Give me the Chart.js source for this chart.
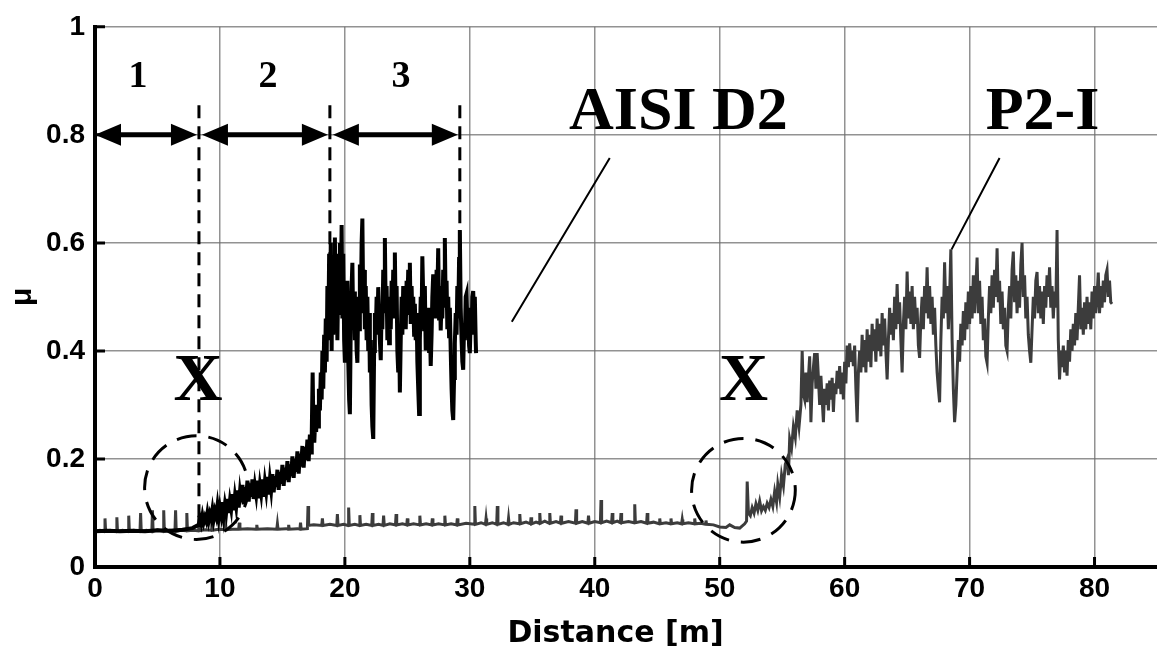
<!DOCTYPE html>
<html>
<head>
<meta charset="utf-8">
<title>Friction coefficient vs sliding distance</title>
<script src="https://cdn.jsdelivr.net/npm/chart.js@4.4.1/dist/chart.umd.min.js"></script>
<style>
  html, body { margin: 0; padding: 0; background: #fff; }
  #wrap { width: 1157px; height: 656px; }
</style>
</head>
<body>
<div id="wrap"><canvas id="muChart" width="1157" height="656"></canvas></div>
<script>
"use strict";

// --- data: [distance m, μ] ---
const xTickValues = [0, 10, 20, 30, 40, 50, 60, 70, 80];
const yTickValues = [0, 0.2, 0.4, 0.6, 0.8, 1];

const d2Points = [
  [0, 0.066], [1, 0.067], [2, 0.066], [3, 0.067], [4, 0.066], [5, 0.068], [6, 0.067], [7, 0.069], [7.8, 0.072],
  [8.3, 0.078], [8.4, 0.09], [8.5, 0.081], [8.6, 0.095], [8.7, 0.083], [8.8, 0.092], [8.9, 0.085], [9.0, 0.1],
  [9.1, 0.086], [9.2, 0.098], [9.3, 0.09], [9.4, 0.106], [9.5, 0.089], [9.6, 0.103], [9.7, 0.094], [9.8, 0.113],
  [9.9, 0.092], [10.0, 0.11], [10.1, 0.097], [10.2, 0.12], [10.3, 0.096], [10.4, 0.116], [10.5, 0.102],
  [10.6, 0.126], [10.7, 0.1], [10.8, 0.122], [10.9, 0.108], [11.0, 0.135], [11.1, 0.105], [11.2, 0.13],
  [11.3, 0.113], [11.4, 0.142], [11.5, 0.11], [11.6, 0.138], [11.7, 0.12], [11.8, 0.152], [11.9, 0.116],
  [12.0, 0.148], [12.1, 0.126], [12.2, 0.16], [12.3, 0.121], [12.4, 0.155], [12.5, 0.13], [12.6, 0.162],
  [12.7, 0.126], [12.8, 0.15], [12.9, 0.134], [13.0, 0.16], [13.1, 0.127], [13.2, 0.152], [13.3, 0.136],
  [13.4, 0.162], [13.5, 0.13], [13.6, 0.157], [13.7, 0.14], [13.8, 0.167], [13.9, 0.134], [14.0, 0.162],
  [14.1, 0.143], [14.2, 0.172], [14.3, 0.138], [14.4, 0.168], [14.5, 0.148], [14.6, 0.18], [14.7, 0.143],
  [14.8, 0.176], [14.9, 0.154], [15.0, 0.189], [15.1, 0.15], [15.2, 0.184], [15.3, 0.161], [15.4, 0.196],
  [15.5, 0.157], [15.6, 0.19], [15.7, 0.168], [15.8, 0.205], [15.9, 0.165], [16.0, 0.2], [16.1, 0.176],
  [16.2, 0.214], [16.3, 0.173], [16.4, 0.21], [16.5, 0.186], [16.6, 0.224], [16.7, 0.184], [16.8, 0.222],
  [16.9, 0.198], [17.0, 0.236], [17.1, 0.196], [17.2, 0.245], [17.3, 0.212],
  [17.35, 0.25], [17.42, 0.36], [17.48, 0.26], [17.55, 0.23], [17.62, 0.27], [17.7, 0.25], [17.78, 0.3],
  [17.85, 0.26], [17.92, 0.33], [18.0, 0.29], [18.07, 0.36], [18.14, 0.31], [18.2, 0.4], [18.27, 0.33],
  [18.34, 0.43], [18.4, 0.36], [18.47, 0.46], [18.54, 0.38], [18.6, 0.52], [18.67, 0.42], [18.74, 0.58],
  [18.8, 0.44], [18.87, 0.6], [18.94, 0.4],
  [19.0, 0.56], [19.07, 0.43], [19.14, 0.55], [19.2, 0.61], [19.27, 0.45], [19.34, 0.58], [19.4, 0.42],
  [19.47, 0.54], [19.54, 0.47], [19.6, 0.6], [19.67, 0.5], [19.74, 0.633], [19.8, 0.46], [19.87, 0.58],
  [19.94, 0.42], [20.0, 0.378], [20.07, 0.5], [20.14, 0.45], [20.2, 0.53], [20.27, 0.38], [20.34, 0.31],
  [20.4, 0.283], [20.47, 0.45], [20.54, 0.52], [20.6, 0.563], [20.67, 0.44], [20.74, 0.51], [20.8, 0.42],
  [20.87, 0.48], [20.94, 0.4], [21.0, 0.378], [21.07, 0.5], [21.14, 0.44], [21.2, 0.56], [21.27, 0.47],
  [21.34, 0.6], [21.4, 0.645], [21.47, 0.48], [21.54, 0.55], [21.6, 0.44], [21.67, 0.52], [21.74, 0.42],
  [21.8, 0.5], [21.87, 0.4], [21.94, 0.47], [22.0, 0.36], [22.07, 0.42], [22.14, 0.3], [22.2, 0.26],
  [22.27, 0.237], [22.34, 0.4], [22.4, 0.47], [22.47, 0.43], [22.54, 0.5], [22.6, 0.44], [22.67, 0.518],
  [22.74, 0.46], [22.8, 0.42], [22.87, 0.383], [22.94, 0.48], [23.0, 0.44], [23.07, 0.55], [23.14, 0.5],
  [23.2, 0.609], [23.27, 0.47], [23.34, 0.52], [23.4, 0.42], [23.47, 0.5], [23.54, 0.414], [23.6, 0.49],
  [23.67, 0.44], [23.74, 0.53], [23.8, 0.46], [23.87, 0.55], [23.94, 0.5], [24.0, 0.582], [24.07, 0.46],
  [24.14, 0.52], [24.2, 0.4], [24.27, 0.36], [24.34, 0.44], [24.4, 0.323], [24.47, 0.42], [24.54, 0.5],
  [24.6, 0.43], [24.67, 0.52], [24.74, 0.46], [24.8, 0.5], [24.87, 0.44], [24.94, 0.53], [25.0, 0.48],
  [25.07, 0.55], [25.14, 0.47], [25.2, 0.563], [25.27, 0.45], [25.34, 0.52], [25.4, 0.46], [25.47, 0.5],
  [25.54, 0.43], [25.6, 0.487], [25.67, 0.42], [25.74, 0.47], [25.8, 0.38], [25.87, 0.33], [25.94, 0.283],
  [26.0, 0.42], [26.07, 0.5], [26.14, 0.46], [26.2, 0.575], [26.27, 0.5], [26.34, 0.44], [26.4, 0.52],
  [26.47, 0.401], [26.54, 0.47], [26.6, 0.42], [26.67, 0.48], [26.74, 0.4], [26.8, 0.45], [26.87, 0.372],
  [26.94, 0.43], [27.0, 0.5], [27.07, 0.542], [27.14, 0.47], [27.2, 0.53], [27.27, 0.46], [27.34, 0.55],
  [27.4, 0.5], [27.47, 0.59], [27.54, 0.46], [27.6, 0.52], [27.67, 0.438], [27.74, 0.5], [27.8, 0.46],
  [27.87, 0.55], [27.94, 0.5], [28.0, 0.609], [28.07, 0.48], [28.14, 0.53], [28.2, 0.44], [28.27, 0.5],
  [28.34, 0.427], [28.4, 0.48], [28.47, 0.4], [28.54, 0.33], [28.6, 0.29], [28.67, 0.272], [28.74, 0.35],
  [28.8, 0.414], [28.87, 0.47], [28.94, 0.43], [29.0, 0.52], [29.07, 0.46], [29.14, 0.57], [29.2, 0.624],
  [29.27, 0.48], [29.34, 0.42], [29.4, 0.38], [29.47, 0.365], [29.54, 0.45], [29.6, 0.42], [29.67, 0.5],
  [29.74, 0.506], [29.8, 0.45], [29.87, 0.48], [29.94, 0.41], [30.0, 0.396], [30.07, 0.46], [30.14, 0.43],
  [30.2, 0.5], [30.27, 0.511], [30.34, 0.46], [30.4, 0.5], [30.47, 0.42], [30.5, 0.396]
];

const p2Points = [
  [0, 0.066], [0.4, 0.068], [0.75, 0.066], [0.8, 0.09], [0.85, 0.066], [1.2, 0.068], [1.7, 0.066], [1.75, 0.092],
  [1.8, 0.066], [2.2, 0.068], [2.65, 0.066], [2.7, 0.095], [2.75, 0.066], [3.1, 0.068], [3.6, 0.066], [3.65, 0.1],
  [3.7, 0.066], [4.1, 0.068], [4.55, 0.066], [4.6, 0.105], [4.65, 0.066], [5.0, 0.069], [5.45, 0.066], [5.5, 0.105],
  [5.55, 0.066], [6.0, 0.068], [6.4, 0.066], [6.45, 0.105], [6.5, 0.066], [6.9, 0.068], [7.3, 0.067], [7.35, 0.1],
  [7.4, 0.067], [7.8, 0.068], [8.25, 0.067], [8.3, 0.095], [8.35, 0.067], [8.8, 0.069], [9.3, 0.068], [9.35, 0.085],
  [9.4, 0.068], [9.9, 0.07], [10.4, 0.069], [10.45, 0.08], [10.5, 0.069], [11.0, 0.07], [11.5, 0.07], [11.55, 0.082],
  [11.6, 0.07], [12.2, 0.071], [12.9, 0.07], [12.95, 0.078], [13.0, 0.07], [13.8, 0.071], [14.55, 0.07], [14.6, 0.08],
  [14.65, 0.07], [15.3, 0.071], [15.45, 0.07], [15.5, 0.078], [15.55, 0.07], [16.2, 0.071], [16.4, 0.07],
  [16.45, 0.082], [16.5, 0.07], [17.0, 0.071], [17.05, 0.113], [17.1, 0.077],
  [17.5, 0.078], [18.15, 0.077], [18.2, 0.09], [18.25, 0.077], [18.8, 0.079], [19.35, 0.077], [19.4, 0.098],
  [19.45, 0.077], [19.9, 0.079], [20.25, 0.077], [20.3, 0.11], [20.35, 0.077], [20.8, 0.079], [21.15, 0.077],
  [21.2, 0.096], [21.25, 0.077], [21.7, 0.079], [22.15, 0.077], [22.2, 0.1], [22.25, 0.077], [22.7, 0.079],
  [23.05, 0.077], [23.1, 0.095], [23.15, 0.077], [23.6, 0.08], [24.05, 0.078], [24.1, 0.098], [24.15, 0.078],
  [24.6, 0.08], [24.95, 0.078], [25, 0.09], [25.05, 0.078], [25.5, 0.08], [25.95, 0.078], [26, 0.095], [26.05, 0.078],
  [26.5, 0.08], [26.95, 0.078], [27, 0.09], [27.05, 0.078], [27.5, 0.08], [27.95, 0.078], [28, 0.095], [28.05, 0.078],
  [28.5, 0.08], [28.95, 0.078], [29, 0.09], [29.05, 0.078], [29.7, 0.081], [30.35, 0.079], [30.4, 0.113],
  [30.45, 0.079], [30.9, 0.082], [31.25, 0.079], [31.3, 0.09], [31.35, 0.079], [31.8, 0.082], [32.15, 0.079],
  [32.2, 0.113], [32.25, 0.079], [32.7, 0.082], [33.05, 0.079], [33.1, 0.09], [33.15, 0.079], [33.5, 0.082],
  [33.95, 0.08], [34, 0.098], [34.05, 0.08], [34.5, 0.083], [34.85, 0.08], [34.9, 0.092], [34.95, 0.08],
  [35.3, 0.083], [35.55, 0.081], [35.6, 0.1], [35.65, 0.081], [36, 0.085], [36.35, 0.081], [36.4, 0.1],
  [36.45, 0.081], [36.9, 0.084], [37.25, 0.081], [37.3, 0.095], [37.35, 0.081], [37.9, 0.084], [38.45, 0.081],
  [38.5, 0.107], [38.55, 0.081], [39, 0.084], [39.45, 0.081], [39.5, 0.095], [39.55, 0.081], [40, 0.084],
  [40.45, 0.082], [40.5, 0.124], [40.55, 0.082], [40.95, 0.085], [41.35, 0.082], [41.4, 0.1], [41.45, 0.082],
  [41.8, 0.085], [42.05, 0.082], [42.1, 0.1], [42.15, 0.082], [42.7, 0.084], [43.15, 0.082], [43.2, 0.116],
  [43.25, 0.082], [43.7, 0.084], [44.15, 0.081], [44.2, 0.1], [44.25, 0.081], [44.7, 0.083], [45.15, 0.08],
  [45.2, 0.09], [45.25, 0.08], [45.7, 0.082], [46.05, 0.08], [46.1, 0.09], [46.15, 0.08], [46.6, 0.082],
  [46.95, 0.08], [47, 0.088], [47.05, 0.08], [47.5, 0.082], [47.95, 0.08], [48, 0.09], [48.05, 0.08], [48.5, 0.081],
  [48.85, 0.079], [48.9, 0.086], [48.95, 0.079], [49.5, 0.078], [50, 0.074], [50.5, 0.073], [50.8, 0.078],
  [51.2, 0.073], [51.6, 0.072], [52.0, 0.08], [52.15, 0.085], [52.2, 0.158], [52.3, 0.1], [52.45, 0.095],
  [52.6, 0.11], [52.75, 0.1], [52.9, 0.117], [53.05, 0.105], [53.2, 0.122], [53.35, 0.104], [53.5, 0.112],
  [53.65, 0.105], [53.8, 0.118], [53.95, 0.11], [54.1, 0.125], [54.25, 0.112], [54.4, 0.14], [54.55, 0.12],
  [54.65, 0.153], [54.8, 0.13], [54.95, 0.17], [55.1, 0.15], [55.25, 0.19], [55.4, 0.2], [55.5, 0.17],
  [55.6, 0.237], [55.75, 0.22], [55.9, 0.26], [56.05, 0.24], [56.2, 0.29], [56.35, 0.26], [56.5, 0.3],
  [56.6, 0.4], [56.7, 0.32], [56.8, 0.31], [56.9, 0.36], [57.0, 0.305], [57.1, 0.35], [57.2, 0.39], [57.3, 0.268],
  [57.4, 0.34], [57.5, 0.37], [57.6, 0.396], [57.7, 0.33], [57.8, 0.396], [57.9, 0.35], [58.0, 0.3], [58.1, 0.354],
  [58.2, 0.31], [58.3, 0.268], [58.4, 0.33], [58.5, 0.3], [58.6, 0.34], [58.7, 0.29], [58.8, 0.345], [58.9, 0.31],
  [59.0, 0.35], [59.1, 0.287], [59.2, 0.34], [59.3, 0.32], [59.4, 0.363], [59.5, 0.33], [59.6, 0.372], [59.7, 0.32],
  [59.8, 0.36], [59.9, 0.31], [60.0, 0.38], [60.1, 0.34], [60.2, 0.41], [60.3, 0.37], [60.4, 0.414], [60.5, 0.38],
  [60.6, 0.4], [60.7, 0.372], [60.8, 0.41], [60.9, 0.33], [61.0, 0.268], [61.1, 0.36], [61.2, 0.4], [61.3, 0.36],
  [61.4, 0.43], [61.5, 0.37], [61.6, 0.42], [61.7, 0.36], [61.8, 0.44], [61.9, 0.38], [62.0, 0.43], [62.1, 0.37],
  [62.2, 0.45], [62.3, 0.4], [62.4, 0.44], [62.5, 0.38], [62.6, 0.46], [62.7, 0.4], [62.8, 0.45], [62.9, 0.39],
  [63.0, 0.47], [63.1, 0.41], [63.2, 0.46], [63.3, 0.4], [63.4, 0.347], [63.5, 0.42], [63.6, 0.48], [63.7, 0.43],
  [63.8, 0.47], [63.9, 0.42], [64.0, 0.5], [64.1, 0.44], [64.2, 0.524], [64.3, 0.45], [64.4, 0.49], [64.5, 0.42],
  [64.6, 0.36], [64.7, 0.45], [64.8, 0.5], [64.9, 0.44], [65.0, 0.547], [65.1, 0.46], [65.2, 0.51], [65.3, 0.45],
  [65.4, 0.52], [65.5, 0.44], [65.6, 0.5], [65.7, 0.45], [65.8, 0.48], [65.9, 0.41], [66.0, 0.387], [66.1, 0.46],
  [66.2, 0.5], [66.3, 0.44], [66.4, 0.52], [66.5, 0.47], [66.6, 0.555], [66.7, 0.46], [66.8, 0.52], [66.9, 0.45],
  [67.0, 0.5], [67.1, 0.43], [67.2, 0.48], [67.3, 0.41], [67.4, 0.36], [67.5, 0.33], [67.6, 0.305], [67.7, 0.42],
  [67.8, 0.5], [67.9, 0.46], [68.0, 0.564], [68.1, 0.47], [68.2, 0.52], [68.3, 0.44], [68.4, 0.5], [68.5, 0.588],
  [68.6, 0.42], [68.7, 0.33], [68.8, 0.268], [68.9, 0.3], [69.0, 0.36], [69.1, 0.42], [69.2, 0.38], [69.3, 0.45],
  [69.4, 0.41], [69.5, 0.474], [69.6, 0.42], [69.7, 0.49], [69.8, 0.44], [69.9, 0.51], [70.0, 0.45], [70.1, 0.52],
  [70.2, 0.46], [70.3, 0.54], [70.4, 0.47], [70.5, 0.52], [70.6, 0.573], [70.7, 0.47], [70.8, 0.53], [70.9, 0.45],
  [71.0, 0.5], [71.1, 0.42], [71.2, 0.46], [71.3, 0.39], [71.4, 0.378], [71.5, 0.46], [71.6, 0.52], [71.7, 0.47],
  [71.8, 0.54], [71.9, 0.48], [72.0, 0.55], [72.1, 0.5], [72.2, 0.59], [72.3, 0.49], [72.4, 0.53], [72.5, 0.45],
  [72.6, 0.51], [72.7, 0.44], [72.8, 0.48], [72.9, 0.41], [73.0, 0.4], [73.1, 0.48], [73.2, 0.52], [73.3, 0.46],
  [73.4, 0.55], [73.5, 0.584], [73.6, 0.49], [73.7, 0.54], [73.8, 0.47], [73.9, 0.53], [74.0, 0.48], [74.1, 0.56],
  [74.2, 0.6], [74.3, 0.5], [74.4, 0.54], [74.5, 0.46], [74.6, 0.5], [74.7, 0.43], [74.8, 0.4], [74.9, 0.378],
  [75.0, 0.44], [75.1, 0.5], [75.2, 0.46], [75.3, 0.53], [75.4, 0.546], [75.5, 0.47], [75.6, 0.52], [75.7, 0.46],
  [75.8, 0.51], [75.9, 0.45], [76.0, 0.52], [76.1, 0.48], [76.2, 0.54], [76.3, 0.5], [76.4, 0.555], [76.5, 0.48],
  [76.6, 0.52], [76.7, 0.46], [76.8, 0.51], [76.9, 0.48], [77.0, 0.624], [77.1, 0.42], [77.2, 0.347], [77.3, 0.4],
  [77.4, 0.37], [77.5, 0.41], [77.6, 0.36], [77.7, 0.4], [77.8, 0.354], [77.9, 0.42], [78.0, 0.38], [78.1, 0.44],
  [78.2, 0.4], [78.3, 0.45], [78.4, 0.41], [78.5, 0.47], [78.6, 0.42], [78.7, 0.48], [78.8, 0.54], [78.9, 0.44],
  [79.0, 0.48], [79.1, 0.43], [79.2, 0.49], [79.3, 0.44], [79.4, 0.5], [79.5, 0.45], [79.6, 0.49], [79.7, 0.44],
  [79.8, 0.51], [79.9, 0.46], [80.0, 0.52], [80.1, 0.47], [80.2, 0.5], [80.3, 0.545], [80.4, 0.47], [80.5, 0.52],
  [80.6, 0.48], [80.7, 0.53], [80.8, 0.49], [80.9, 0.54], [81.0, 0.55], [81.1, 0.5], [81.2, 0.53], [81.3, 0.49],
  [81.4, 0.487]
];

// stage boundaries (m) and labels of the annotated zones
const stageBounds = [0, 8.32, 18.8, 29.2];
const stageLabels = ['1', '2', '3'];

const toXY = pts => pts.map(([x, y]) => ({ x, y }));

/**
 * Draws the hand-made annotations of the figure: inner ticks, zone arrows,
 * dashed markers, the "X" circles and the material labels.
 */
const annotationPlugin = {
  id: 'wearAnnotations',
  afterDatasetsDraw(chart) {
    const { ctx, scales: { x, y } } = chart;
    const px = v => x.getPixelForValue(v);
    const py = v => y.getPixelForValue(v);
    const area = chart.chartArea;

    ctx.save();
    ctx.strokeStyle = '#000';
    ctx.fillStyle = '#000';

    // inward tick marks
    ctx.lineWidth = 3;
    ctx.beginPath();
    xTickValues.forEach(v => {
      ctx.moveTo(px(v), area.bottom);
      ctx.lineTo(px(v), area.bottom - 10);
    });
    yTickValues.forEach(v => {
      ctx.moveTo(area.left, py(v));
      ctx.lineTo(area.left + 10, py(v));
    });
    ctx.stroke();

    // dashed stage boundaries
    ctx.lineWidth = 3;
    ctx.setLineDash([13, 8]);
    const dashEnds = [0.09, 0.55, 0.5];
    stageBounds.slice(1).forEach((b, i) => {
      ctx.beginPath();
      ctx.moveTo(px(b), py(0.855));
      ctx.lineTo(px(b), py(dashEnds[i]));
      ctx.stroke();
    });

    // dashed circles round the transition points
    ctx.setLineDash([20, 12]);
    [[8.12, 0.147], [51.9, 0.142]].forEach(([cx, cy]) => {
      const r = px(cx + 4.15) - px(cx);
      ctx.beginPath();
      ctx.arc(px(cx), py(cy), r, 0, Math.PI * 2);
      ctx.stroke();
    });
    ctx.setLineDash([]);

    // double headed arrows for the zones
    const arrowY = py(0.8);
    const head = 26, half = 11;
    const gaps = [[0, 0.16], [0.24, 0.16], [0.24, 0.16]];
    for (let i = 0; i < 3; i++) {
      const x1 = px(stageBounds[i] + gaps[i][0]);
      const x2 = px(stageBounds[i + 1] - gaps[i][1]);
      ctx.lineWidth = 5;
      ctx.beginPath();
      ctx.moveTo(x1 + head - 2, arrowY);
      ctx.lineTo(x2 - head + 2, arrowY);
      ctx.stroke();
      ctx.beginPath();
      ctx.moveTo(x1, arrowY);
      ctx.lineTo(x1 + head, arrowY - half);
      ctx.lineTo(x1 + head, arrowY + half);
      ctx.closePath();
      ctx.moveTo(x2, arrowY);
      ctx.lineTo(x2 - head, arrowY - half);
      ctx.lineTo(x2 - head, arrowY + half);
      ctx.closePath();
      ctx.fill();
    }

    // zone numbers
    ctx.textAlign = 'center';
    ctx.textBaseline = 'alphabetic';
    ctx.font = 'bold 38px "Liberation Serif"';
    [3.44, 13.84, 24.5].forEach((v, i) => ctx.fillText(stageLabels[i], px(v), py(0.889)));

    // X markers
    ctx.font = 'bold 68px "Liberation Serif"';
    ctx.fillText('X', px(8.24), py(0.31));
    ctx.fillText('X', px(51.9), py(0.31));

    // material labels and leaders
    ctx.font = 'bold 62px "Liberation Serif"';
    ctx.fillText('AISI D2', px(46.7), py(0.81));
    ctx.fillText('P2-I', px(75.84), py(0.81));
    ctx.lineWidth = 2;
    ctx.beginPath();
    ctx.moveTo(px(41.2), py(0.757));
    ctx.lineTo(px(33.36), py(0.454));
    ctx.moveTo(px(72.4), py(0.757));
    ctx.lineTo(px(68.56), py(0.588));
    ctx.stroke();

    ctx.restore();
  }
};

const tickFont = { family: '"Liberation Sans", Arial, sans-serif', size: 28, weight: 'bold' };
const gridColor = 'rgba(110,110,110,0.75)';

new Chart(document.getElementById('muChart'), {
  type: 'line',
  data: {
    datasets: [
      {
        label: 'AISI D2',
        data: toXY(d2Points),
        borderColor: '#000',
        borderWidth: 4,
        pointRadius: 0,
        tension: 0
      },
      {
        label: 'P2-I',
        data: toXY(p2Points),
        borderColor: '#3c3c3c',
        borderWidth: 3,
        pointRadius: 0,
        tension: 0
      }
    ]
  },
  options: {
    responsive: false,
    animation: false,
    devicePixelRatio: 1,
    layout: { padding: { top: 19, right: 0, bottom: 0, left: 0 } },
    plugins: {
      legend: { display: false },
      tooltip: { enabled: false }
    },
    scales: {
      x: {
        type: 'linear',
        min: 0,
        max: 85,
        afterBuildTicks: scale => { scale.ticks = xTickValues.map(v => ({ value: v })); },
        afterFit: scale => { scale.height = 89; },
        grid: { color: gridColor, lineWidth: 1.5, drawTicks: false },
        border: { color: '#000', width: 4 },
        ticks: { color: '#000', font: tickFont, padding: 5, maxRotation: 0, callback: v => String(v) },
        title: {
          display: true,
          // trailing spaces nudge the centred title left, as in the figure
          text: 'Distance [m]  ',
          color: '#000',
          font: { family: '"DejaVu Sans", sans-serif', size: 30, weight: 'bold' },
          padding: { top: 0, bottom: 4 }
        }
      },
      y: {
        min: 0,
        max: 1,
        afterBuildTicks: scale => { scale.ticks = yTickValues.map(v => ({ value: v })); },
        afterFit: scale => { scale.width = 95; },
        grid: { color: gridColor, lineWidth: 1.5, drawTicks: false },
        border: { color: '#000', width: 4 },
        ticks: { color: '#000', font: tickFont, padding: 10, callback: v => String(v) },
        title: {
          display: true,
          text: 'μ',
          color: '#000',
          font: { family: '"Liberation Sans", Arial, sans-serif', size: 30, weight: 'bold' },
          padding: { top: 5, bottom: 0 }
        }
      }
    }
  },
  plugins: [annotationPlugin]
});
</script>
</body>
</html>
